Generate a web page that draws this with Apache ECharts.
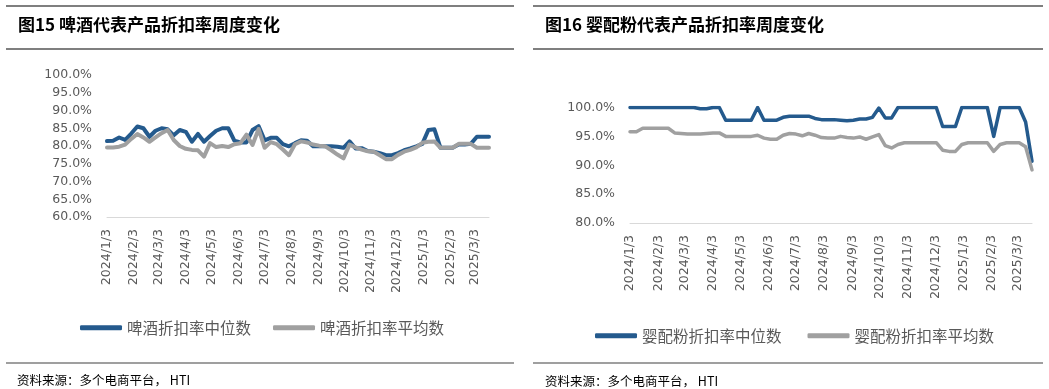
<!DOCTYPE html>
<html><head><meta charset="utf-8">
<script src="https://cdn.jsdelivr.net/npm/echarts@6/dist/echarts.min.js"></script>
<style>html,body{margin:0;padding:0;background:#fff}#c{width:1049px;height:389px}</style>
</head><body><div id="c"></div>
<script>
// weekly observation dates
const weekDates = [
 '2024/1/3','2024/1/10','2024/1/17','2024/1/24','2024/1/31','2024/2/7','2024/2/14','2024/2/21','2024/2/28',
 '2024/3/6','2024/3/13','2024/3/20','2024/3/27','2024/4/3','2024/4/10','2024/4/17','2024/4/24',
 '2024/5/1','2024/5/8','2024/5/15','2024/5/22','2024/5/29','2024/6/5','2024/6/12','2024/6/19','2024/6/26',
 '2024/7/3','2024/7/10','2024/7/17','2024/7/24','2024/7/31','2024/8/7','2024/8/14','2024/8/21','2024/8/28',
 '2024/9/4','2024/9/11','2024/9/18','2024/9/25','2024/10/2','2024/10/9','2024/10/16','2024/10/23','2024/10/30',
 '2024/11/6','2024/11/13','2024/11/20','2024/11/27','2024/12/4','2024/12/11','2024/12/18','2024/12/25',
 '2025/1/1','2025/1/8','2025/1/15','2025/1/22','2025/1/29','2025/2/5','2025/2/12','2025/2/19','2025/2/26',
 '2025/3/5','2025/3/12','2025/3/19'
];
// x-axis tick labels
const xTickLabels = ['2024/1/3','2024/2/3','2024/3/3','2024/4/3','2024/5/3','2024/6/3','2024/7/3','2024/8/3',
 '2024/9/3','2024/10/3','2024/11/3','2024/12/3','2025/1/3','2025/2/3','2025/3/3'];

// 啤酒 (beer) discount rate, %
const beerMedian = [81.4,81.5,82.4,81.7,83.5,85.5,85.0,82.6,84.3,85.0,84.7,83.0,84.5,84.0,81.2,83.4,
 81.2,82.8,84.3,85.0,85.0,81.5,81.0,81.0,84.5,85.6,81.6,82.3,82.3,80.5,79.9,80.8,
 81.6,81.5,79.9,79.9,79.9,79.9,79.8,79.5,81.3,79.3,79.4,78.6,78.4,78.0,77.4,77.4,
 78.0,78.8,79.3,79.9,80.6,84.5,84.7,79.5,79.5,79.5,80.4,80.4,80.6,82.6,82.6,82.6];
const beerMean = [79.6,79.6,79.8,80.4,82.0,83.4,82.4,81.2,82.4,83.6,84.5,81.7,80.0,79.2,78.9,78.8,
 77.0,80.8,79.7,80.0,79.7,80.5,80.8,83.2,80.3,84.8,79.5,81.1,80.5,79.0,77.4,80.5,
 81.3,81.0,80.4,80.1,79.9,78.8,77.6,76.5,80.4,79.6,79.0,78.5,78.4,77.4,76.3,76.3,
 77.5,78.4,78.9,79.6,80.9,81.2,81.3,79.5,79.5,79.5,80.6,80.6,80.6,79.5,79.5,79.5];

// 婴配粉 (infant formula) discount rate, %
const infantMedian = [100,100,100,100,100,100,100,100,100,100,100,99.8,99.8,100,100,97.8,
 97.8,97.8,97.8,97.8,100,97.8,97.8,97.8,98.3,98.5,98.5,98.5,98.5,98.1,97.9,97.9,
 97.9,97.8,97.7,97.8,98.0,98.0,98.3,99.9,98.2,98.2,100,100,100,100,100,100,
 100,96.7,96.7,96.7,100,100,100,100,100,95.0,100,100,100,100,97.5,90.7];
const infantMean = [95.8,95.8,96.4,96.4,96.4,96.4,96.4,95.6,95.5,95.4,95.4,95.4,95.5,95.6,95.6,95.0,
 95.0,95.0,95.0,95.0,95.2,94.7,94.5,94.5,95.2,95.5,95.4,95.1,95.5,95.2,94.8,94.7,
 94.7,95.0,94.8,94.7,94.9,94.5,94.9,95.3,93.4,93.0,93.6,93.9,93.9,93.9,93.9,93.9,
 93.9,92.6,92.4,92.4,93.6,93.9,93.9,93.9,93.9,92.4,93.6,93.9,93.9,93.9,93.2,89.2];

const names = {
  bMed: '啤酒折扣率中位数', bMean: '啤酒折扣率平均数',
  iMed: '婴配粉折扣率中位数', iMean: '婴配粉折扣率平均数'
};
const BLUE = '#245a8d', GRAY = '#a0a0a0', LABEL = '#595959', RULE = '#7f7f7f';

function ts(s){const p=s.split('/').map(Number);return new Date(p[0],p[1]-1,p[2]).getTime();}
function pairs(vals){return weekDates.map((d,i)=>[ts(d), vals[i]]);}
function fmtDate(v){const d=new Date(v);return d.getFullYear()+'/'+(d.getMonth()+1)+'/'+d.getDate();}

function xAxis(g){
  return {type:'value', gridIndex:g, min:ts(weekDates[0]), max:ts(weekDates[weekDates.length-1]),
    axisLine:{show:true, lineStyle:{color:'#d9d9d9', width:1}}, axisTick:{show:false}, splitLine:{show:false},
    axisLabel:{customValues: xTickLabels.map(ts), rotate:90, color:LABEL, fontSize:12.5,
      fontFamily:'DejaVu Sans', margin:12, formatter: fmtDate, hideOverlap:false,
      showMinLabel:true, showMaxLabel:true}};
}
function yAxis(g,min,max){
  return {type:'value', gridIndex:g, min:min, max:max, interval:5,
    axisLine:{show:false}, axisTick:{show:false}, splitLine:{show:false},
    axisLabel:{formatter:v=>v.toFixed(1)+'%', color:LABEL, fontSize:12.5, fontFamily:'DejaVu Sans', margin:15}};
}
function line(name,g,vals,color,w){
  return {name:name, type:'line', xAxisIndex:g, yAxisIndex:g, data:pairs(vals), showSymbol:false,
    symbol:'none', lineStyle:{color:color, width:w, cap:'round', join:'round'}, itemStyle:{color:color}, animation:false};
}
const legendBase = {icon:'roundRect', itemWidth:42, itemHeight:5,
  textStyle:{fontSize:15.5, color:LABEL, fontFamily:'Noto Sans CJK SC'}};

const chart = echarts.init(document.getElementById('c'), null, {renderer:'canvas'});
chart.setOption({
  backgroundColor:'#fff',
  animation:false,
  grid:[
    {left:107, top:75, width:382, height:142, containLabel:false},
    {left:630, top:107.5, width:402, height:115.5, containLabel:false}
  ],
  xAxis:[xAxis(0), xAxis(1)],
  yAxis:[yAxis(0,60,100), yAxis(1,80,100)],
  legend:[
    Object.assign({left:75, top:315, itemGap:22, data:[names.bMed, names.bMean]}, legendBase),
    Object.assign({left:590, top:323, itemGap:26, data:[names.iMed, names.iMean]}, legendBase)
  ],
  series:[
    line(names.bMed,0,beerMedian,BLUE,4),
    line(names.bMean,0,beerMean,GRAY,4),
    line(names.iMed,1,infantMedian,BLUE,3.5),
    line(names.iMean,1,infantMean,GRAY,3.5)
  ],
  graphic:[
    {type:'line', shape:{x1:6,y1:6,x2:514,y2:6}, style:{stroke:RULE, lineWidth:2}},
    {type:'line', shape:{x1:6,y1:49,x2:514,y2:49}, style:{stroke:RULE, lineWidth:2}},
    {type:'line', shape:{x1:6,y1:363,x2:514,y2:363}, style:{stroke:RULE, lineWidth:1.5}},
    {type:'line', shape:{x1:533,y1:6,x2:1043,y2:6}, style:{stroke:RULE, lineWidth:2}},
    {type:'line', shape:{x1:533,y1:49,x2:1043,y2:49}, style:{stroke:RULE, lineWidth:2}},
    {type:'line', shape:{x1:533,y1:363,x2:1043,y2:363}, style:{stroke:RULE, lineWidth:1.5}},
    {type:'text', x:18, y:25, style:{text:'图15 啤酒代表产品折扣率周度变化', font:'bold 17px "Noto Sans CJK SC"', fill:'#000', verticalAlign:'middle'}},
    {type:'text', x:545, y:25, style:{text:'图16 婴配粉代表产品折扣率周度变化', font:'bold 17px "Noto Sans CJK SC"', fill:'#000', verticalAlign:'middle'}},
    {type:'text', x:17, y:380, style:{text:'资料来源：多个电商平台， HTI', font:'12.5px "Noto Sans CJK SC"', fill:'#000', verticalAlign:'middle'}},
    {type:'text', x:545, y:381, style:{text:'资料来源：多个电商平台， HTI', font:'12.5px "Noto Sans CJK SC"', fill:'#000', verticalAlign:'middle'}}
  ]
});
</script></body></html>
